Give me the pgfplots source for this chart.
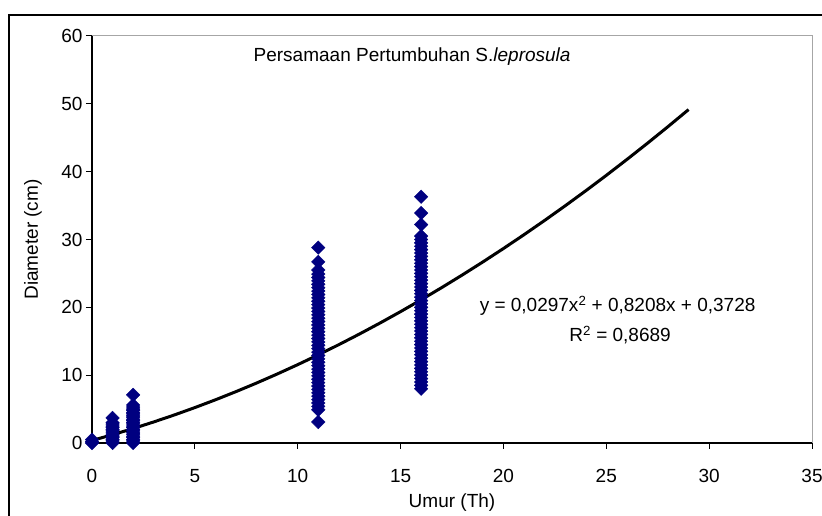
\documentclass[border=0pt]{standalone}
\usepackage{fontspec}
\setmainfont{Liberation Sans}
\usepackage{pgfplots}
\pgfplotsset{compat=1.18}
\definecolor{navy}{RGB}{0,0,128}
\newcommand{\chartfont}{\fontsize{19}{23}\selectfont}
\begin{document}
\begin{tikzpicture}[x=1pt,y=1pt]
\path[use as bounding box] (0,0) rectangle (822,516);
\draw[line width=2.2pt] (9,-5) -- (9,501) -- (830,501);
\begin{axis}[
    at={(92pt,73pt)}, anchor=south west,
    scale only axis, width=720pt, height=407pt,
    xmin=0, xmax=35, ymin=0, ymax=60,
    xtick={0,5,...,35}, ytick={0,10,...,60},
    tick align=outside, xtick pos=bottom, ytick pos=left,
    major tick length=6pt,
    tick style={black, line width=1pt},
    axis line style={draw=none},
    /pgf/number format/assume math mode=true,
    tick label style={font=\chartfont},
    xticklabel style={yshift=-17pt},
    label style={font=\chartfont},
    xlabel={Umur (Th)}, ylabel={Diameter (cm)},
    xlabel style={at={(rel axis cs:0.5,0)}, anchor=center, yshift=-60pt},
    ylabel style={at={(rel axis cs:0,0.5)}, anchor=center, yshift=59pt},
    clip=false,
]
\addplot[only marks, mark=square*, mark size=4.8pt, color=navy,
    mark options={rotate=45, fill=navy, draw=navy}] table[row sep=\\] {
x y \\
0 0 \\ 0 0.2 \\ 0 0.5 \\
1 0 \\ 1 0.3 \\ 1 0.5 \\ 1 0.8 \\ 1 1.0 \\ 1 1.2 \\ 1 1.5 \\ 1 1.8 \\ 1 2.0 \\ 1 2.3 \\ 1 2.5 \\ 1 2.8 \\ 1 3.0 \\ 1 3.7 \\
2 0 \\ 2 0.3 \\ 2 0.5 \\ 2 0.8 \\ 2 1.0 \\ 2 1.3 \\ 2 1.5 \\ 2 1.8 \\ 2 2.0 \\ 2 2.3 \\ 2 2.5 \\ 2 2.8 \\ 2 3.0 \\ 2 3.3 \\
2 3.5 \\ 2 3.8 \\ 2 4.0 \\ 2 4.3 \\ 2 4.5 \\ 2 4.8 \\ 2 5.0 \\ 2 5.3 \\ 2 5.6 \\ 2 7.1 \\
11 3.1 \\ 11 4.9 \\ 11 5.4 \\ 11 5.9 \\ 11 6.4 \\ 11 6.9 \\ 11 7.4 \\ 11 7.9 \\ 11 8.4 \\ 11 8.9 \\ 11 9.4 \\ 11 9.9 \\
11 10.4 \\ 11 10.9 \\ 11 11.4 \\ 11 11.9 \\ 11 12.4 \\ 11 12.9 \\ 11 13.4 \\ 11 13.9 \\ 11 14.4 \\ 11 14.9 \\ 11 15.4 \\
11 15.9 \\ 11 16.4 \\ 11 16.9 \\ 11 17.4 \\ 11 17.9 \\ 11 18.4 \\ 11 18.9 \\ 11 19.4 \\ 11 19.9 \\ 11 20.4 \\ 11 20.9 \\
11 21.4 \\ 11 21.9 \\ 11 22.4 \\ 11 22.9 \\ 11 23.4 \\ 11 23.9 \\ 11 24.4 \\ 11 24.9 \\ 11 25.5 \\ 11 26.7 \\ 11 28.8 \\
16 8.0 \\ 16 8.5 \\ 16 9.0 \\ 16 9.5 \\ 16 10.0 \\ 16 10.5 \\ 16 11.0 \\ 16 11.5 \\ 16 12.0 \\ 16 12.5 \\ 16 13.0 \\
16 13.5 \\ 16 14.0 \\ 16 14.5 \\ 16 15.0 \\ 16 15.5 \\ 16 16.0 \\ 16 16.5 \\ 16 17.0 \\ 16 17.5 \\ 16 18.0 \\ 16 18.5 \\
16 19.0 \\ 16 19.5 \\ 16 20.0 \\ 16 20.5 \\ 16 21.0 \\ 16 21.5 \\ 16 22.0 \\ 16 22.5 \\ 16 23.0 \\ 16 23.5 \\ 16 24.0 \\
16 24.5 \\ 16 25.0 \\ 16 25.5 \\ 16 26.0 \\ 16 26.5 \\ 16 27.0 \\ 16 27.5 \\ 16 28.0 \\ 16 28.5 \\ 16 29.0 \\ 16 29.5 \\
16 30.0 \\ 16 30.5 \\ 16 32.2 \\ 16 33.9 \\ 16 36.3 \\
};
% polynomial trendline, read at whole years
\addplot[black, line width=3pt, no marks] table[row sep=\\] {
x y \\
0 0.373 \\ 1 1.223 \\ 2 2.133 \\ 3 3.103 \\ 4 4.131 \\ 5 5.219 \\ 6 6.367 \\ 7 7.574 \\
8 8.840 \\ 9 10.166 \\ 10 11.551 \\ 11 12.995 \\ 12 14.499 \\ 13 16.063 \\ 14 17.685 \\
15 19.367 \\ 16 21.109 \\ 17 22.910 \\ 18 24.770 \\ 19 26.690 \\ 20 28.669 \\ 21 30.707 \\
22 32.805 \\ 23 34.963 \\ 24 37.179 \\ 25 39.455 \\ 26 41.791 \\ 27 44.186 \\ 28 46.640 \\
29 49.154 \\
};
\draw[gray!70, line width=1pt] (rel axis cs:0,1) -- (rel axis cs:1,1) -- (rel axis cs:1,0);
\draw[black, line width=1.8pt] (rel axis cs:0,1) -- (rel axis cs:0,0) -- (rel axis cs:1,0);
\node[font=\chartfont] at (axis cs:15.56,56.9) {Persamaan Pertumbuhan S.\textit{leprosula}};
\node[font=\chartfont] at (axis cs:25.55,20.2) {y = 0,0297x\textsuperscript{2} + 0,8208x + 0,3728};
\node[font=\chartfont] at (axis cs:25.67,15.9) {R\textsuperscript{2} = 0,8689};
\end{axis}
\end{tikzpicture}
\end{document}
